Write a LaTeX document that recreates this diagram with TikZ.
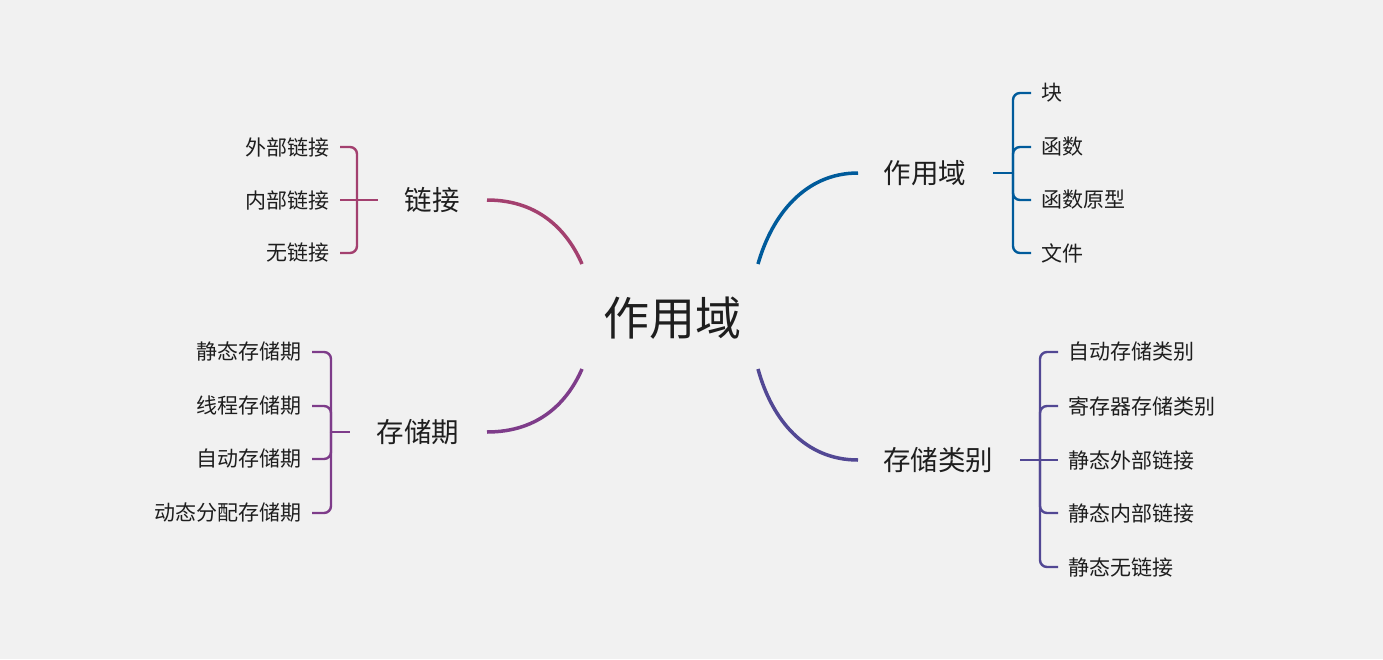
\documentclass[tikz,border=0pt]{standalone}
\usepackage{fontspec}
\setmainfont{Noto Sans CJK SC}
\definecolor{bgc}{HTML}{F1F1F1}
\definecolor{txt}{HTML}{1E1E1E}
\definecolor{linkc}{HTML}{A3406F}
\definecolor{periodc}{HTML}{7E3C8A}
\definecolor{scopec}{HTML}{005B9B}
\definecolor{classc}{HTML}{524894}
\tikzset{
  leafl/.style={anchor=east,inner xsep=10pt,inner ysep=0pt,text=txt,font=\fontsize{21}{23}\selectfont},
  leafr/.style={anchor=west,inner xsep=10pt,inner ysep=0pt,text=txt,font=\fontsize{21}{23}\selectfont},
  topic/.style={inner sep=0pt,text=txt,font=\fontsize{27.5}{30}\selectfont},
  brace/.style={line width=2.4pt,rounded corners=7pt},
  branch/.style={line width=3.5pt}
}
\begin{document}
\begin{tikzpicture}[x=1pt,y=-1pt]
    \fill[bgc] (0,0) rectangle (1383,659);

    % centre
    \node[inner sep=0pt,text=txt,font=\fontsize{46}{50}\selectfont] (root) at (672,318) {作用域};
    \coordinate (rootnw) at (582,264);
    \coordinate (rootsw) at (582,369);
    \coordinate (rootne) at (758,264);
    \coordinate (rootse) at (758,369);

    % links
    \node[topic] (link) at (432,200) {链接};
    \coordinate (linkin) at (487,200);
    \coordinate (linkhub) at (378,200);
    \coordinate (linkbar) at (357,200);
    \node[leafl] (link1) at (340,147) {外部链接};
    \node[leafl] (link2) at (340,200) {内部链接};
    \node[leafl] (link3) at (340,253) {无链接};
    \draw[branch,linkc] (linkin) .. controls (540,200) and (568,232) .. (rootnw);
    \draw[brace,linkc] (link2.east) -- (linkhub);
    \foreach \n in {link1,link3}
        \draw[brace,linkc] (linkbar) |- (\n.east);

    % storage period
    \node[topic] (period) at (418,432) {存储期};
    \coordinate (periodin) at (487,432);
    \coordinate (periodhub) at (350,432);
    \coordinate (periodbar) at (331,432);
    \node[leafl] (period1) at (312,352) {静态存储期};
    \node[leafl] (period2) at (312,406) {线程存储期};
    \node[leafl] (period3) at (312,459) {自动存储期};
    \node[leafl] (period4) at (312,513) {动态分配存储期};
    \draw[branch,periodc] (periodin) .. controls (540,432) and (568,401) .. (rootsw);
    \draw[brace,periodc] (periodbar) -- (periodhub);
    \foreach \n in {period1,period2,period3,period4}
        \draw[brace,periodc] (periodbar) |- (\n.east);

    % scope
    \node[topic] (scope) at (925,173) {作用域};
    \coordinate (scopein) at (858,173);
    \coordinate (scopehub) at (993,173);
    \coordinate (scopebar) at (1013,173);
    \node[leafr] (scope1) at (1031,93) {块};
    \node[leafr] (scope2) at (1031,147) {函数};
    \node[leafr] (scope3) at (1031,200) {函数原型};
    \node[leafr] (scope4) at (1031,253) {文件};
    \draw[branch,scopec] (scopein) .. controls (805,173) and (772,215) .. (rootne);
    \draw[brace,scopec] (scopehub) -- (scopebar);
    \foreach \n in {scope1,scope2,scope3,scope4}
        \draw[brace,scopec] (scopebar) |- (\n.west);

    % storage class
    \node[topic] (class) at (938,460) {存储类别};
    \coordinate (classin) at (858,460);
    \coordinate (classhub) at (1020,460);
    \coordinate (classbar) at (1040,460);
    \node[leafr] (class1) at (1058,352) {自动存储类别};
    \node[leafr] (class2) at (1058,406) {寄存器存储类别};
    \node[leafr] (class3) at (1058,460) {静态外部链接};
    \node[leafr] (class4) at (1058,513) {静态内部链接};
    \node[leafr] (class5) at (1058,567) {静态无链接};
    \draw[branch,classc] (classin) .. controls (805,460) and (772,420) .. (rootse);
    \draw[brace,classc] (classhub) -- (class3.west);
    \foreach \n in {class1,class2,class4,class5}
        \draw[brace,classc] (classbar) |- (\n.west);
\end{tikzpicture}
\end{document}
